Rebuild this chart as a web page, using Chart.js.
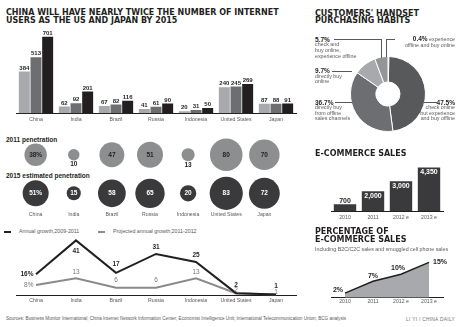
<!DOCTYPE html>
<html>
<head>
<meta charset="utf-8">
<script src="https://cdn.jsdelivr.net/npm/chart.js@4.4.0/dist/chart.umd.min.js"></script>
<style>
  body { margin: 0; background: #fff; }
  #page { position: relative; width: 460px; height: 327px; overflow: hidden; background: #fff;
          font-family: "Liberation Sans", Arial, sans-serif; color: #231f20; }
  .t { position: absolute; white-space: nowrap; }
  .head { font-family: "DejaVu Sans", sans-serif; font-weight: bold; font-size: 8px; line-height: 8.4px; color: #231f20; }
  .small { font-size: 5.3px; line-height: 5.8px; color: #58595b; }
  .pct { font-weight: bold; font-size: 6.5px; line-height: 7px; color: #231f20; }
  .rule { position: absolute; background: #58595b; }
  canvas { position: absolute; }
</style>
</head>
<body>
<div id="page">
  <div class="t head" style="left:6px; top:8.6px;">CHINA WILL HAVE NEARLY TWICE THE NUMBER OF INTERNET<br>USERS AS THE US AND JAPAN BY 2015</div>
  <canvas id="usersChart" width="300" height="110" style="left:0; top:20px;"></canvas>

  <div class="t" style="left:6px; top:135.5px; font-weight:bold; font-size:6.5px; line-height:7px;">2011 penetration</div>
  <div class="t" style="left:6px; top:171.7px; font-weight:bold; font-size:6.5px; line-height:7px;">2015 estimated penetration</div>
  <canvas id="penetrationChart" width="300" height="92" style="left:0; top:130px;"></canvas>

  <div class="rule" style="left:4px; top:230.5px; width:6.5px; height:2px; background:#231f20;"></div>
  <div class="t small" style="left:19px; top:228.6px;">Annual growth,2009-2011</div>
  <div class="rule" style="left:98px; top:230.5px; width:6.5px; height:2px; background:#8a8a8c;"></div>
  <div class="t small" style="left:113px; top:228.6px;">Projected annual growth,2011-2012</div>
  <canvas id="growthChart" width="300" height="88" style="left:0; top:225px;"></canvas>

  <div class="t" style="left:6px; top:316px; font-size:4.6px; line-height:5px; color:#58595b;">Sources: Business Monitor International; China Internet Network Information Center; Economist Intelligence Unit; International Telecommunication Union; BCG analysis</div>
  <div class="t" style="right:5px; top:316.5px; font-size:4.8px; line-height:5px; letter-spacing:0.3px; color:#6d6e71;">LI YI / CHINA DAILY</div>

  <!-- right column -->
  <div class="t head" style="left:315px; top:9.6px; line-height:7.4px;">CUSTOMERS' HANDSET<br>PURCHASING HABITS</div>
  <canvas id="habitsChart" width="76" height="76" style="left:350px; top:56px;"></canvas>

  <div class="t pct" style="left:315px; top:35.8px;">5.7%</div>
  <div class="t small" style="left:315px; top:42.1px;">check and<br>buy online,<br>experience offline</div>
  <div class="t pct" style="left:315px; top:67.2px;">9.7%</div>
  <div class="t small" style="left:315px; top:73.6px;">directly buy<br>online</div>
  <div class="t pct" style="left:315px; top:98.8px;">36.7%</div>
  <div class="t small" style="left:315px; top:105px; line-height:5.6px;">directly buy<br>from offline<br>sales channels</div>
  <div class="t pct" style="right:5px; top:98.8px;">47.5%</div>
  <div class="t small" style="right:5px; top:105px; line-height:5.6px; text-align:right;">check online<br>but experience<br>and buy offline</div>
  <div class="t small" style="right:5px; top:35.5px; text-align:right; line-height:6px;"><b style="font-size:6.5px; color:#231f20;">0.4%</b> experience<br>offline and buy online</div>

  <div class="rule" style="left:334px; top:39px; width:47.5px; height:1px;"></div>
  <div class="rule" style="left:381px; top:39px; width:1px; height:19px;"></div>
  <div class="rule" style="left:386px; top:39px; width:1px; height:18px;"></div>
  <div class="rule" style="left:386px; top:39px; width:9px; height:1px;"></div>
  <div class="rule" style="left:332px; top:70.5px; width:20px; height:1px;"></div>
  <div class="rule" style="left:335px; top:102px; width:17px; height:1px;"></div>
  <div class="rule" style="left:424px; top:102px; width:12.5px; height:1px;"></div>

  <div class="t head" style="left:315px; top:150px;">E-COMMERCE SALES</div>
  <canvas id="salesChart" width="150" height="68" style="left:310px; top:158px;"></canvas>

  <div class="t head" style="left:315px; top:227.8px; line-height:8px;">PERCENTAGE OF<br>E-COMMERCE SALES</div>
  <div class="t small" style="left:315px; top:247.4px;">Including B2C/C2C sales and smuggled cell phone sales</div>
  <canvas id="shareChart" width="150" height="62" style="left:310px; top:250px;"></canvas>
</div>

<script>
// --- DATA ---
const countries = ['China', 'India', 'Brazil', 'Russia', 'Indonesia', 'United States', 'Japan'];
// internet users (million), three bars per country: light, mid, dark
const usersLight = [384, 62, 67, 41, 20, 240, 87];
const usersMid = [513, 92, 82, 61, 31, 245, 88];
const usersDark = [701, 201, 116, 90, 50, 269, 91];
// penetration (%)
const penetration2011 = [38, 10, 47, 51, 13, 80, 70];
const penetration2015 = [51, 15, 58, 65, 20, 83, 72];
// growth (%)
const growth0911 = [16, 41, 17, 31, 25, 2, 1];
const growth1112 = [8, 13, 6, 6, 13, 2, 1];
// handset habits (%)
const habitLabels = ['experience offline and buy online', 'check online but experience and buy offline',
  'directly buy from offline sales channels', 'directly buy online', 'check and buy online, experience offline'];
const habitShares = [0.4, 47.5, 36.7, 9.7, 5.7];
// e-commerce
const salesYears = ['2010', '2011', '2012 e', '2013 e'];
const salesValues = [700, 2000, 3000, 4350];
const shareValues = [2, 7, 10, 15];

const DARK = '#231f20';
Chart.defaults.font.family = '"Liberation Sans", Arial, sans-serif';
Chart.defaults.color = '#58595b';
Chart.defaults.animation = false;
Chart.defaults.plugins.legend.display = false;
Chart.defaults.plugins.tooltip.enabled = false;

function catAxis(size, pad) {
    return {
        grid: { display: false, drawTicks: false },
        border: { color: DARK, width: 1 },
        ticks: { font: { size: size }, color: '#58595b', padding: pad, autoSkip: false, maxRotation: 0 }
    };
}

// Grafik 1: pengguna internet
new Chart(document.getElementById('usersChart'), {
    type: 'bar',
    data: {
        labels: countries,
        datasets: [
            { data: usersLight, backgroundColor: '#a7a9ac' },
            { data: usersMid, backgroundColor: '#6d6e71' },
            { data: usersDark, backgroundColor: DARK }
        ]
    },
    options: {
        responsive: false,
        layout: { padding: { left: 16, right: 4, top: 6, bottom: 4.4 } },
        datasets: { bar: { categoryPercentage: 0.875, barPercentage: 0.94 } },
        scales: { x: catAxis(5.2, 3), y: { display: false, min: 0, max: 800 } }
    },
    plugins: [{
        id: 'usersLabels',
        afterDatasetsDraw(chart) {
            const ctx = chart.ctx;
            ctx.save();
            ctx.font = 'bold 6px "Liberation Sans"';
            ctx.fillStyle = DARK;
            ctx.textAlign = 'center';
            ctx.textBaseline = 'bottom';
            chart.data.datasets.forEach((ds, i) => {
                chart.getDatasetMeta(i).data.forEach((bar, j) => {
                    ctx.fillText(ds.data[j], bar.x, bar.y - 0.5);
                });
            });
            ctx.restore();
        }
    }]
});

// Grafik 2: penetrasi (lingkaran, luas ~ nilai)
const BUBBLE_K = 1.82;
function bubbleSet(values, row, color) {
    return {
        values: values,
        data: values.map((v, i) => ({ x: i, y: row })),
        backgroundColor: color,
        pointRadius: c => BUBBLE_K * Math.sqrt(c.dataset.values[c.dataIndex]),
        pointHoverRadius: c => BUBBLE_K * Math.sqrt(c.dataset.values[c.dataIndex]),
        pointBorderWidth: 0,
        clip: false
    };
}
new Chart(document.getElementById('penetrationChart'), {
    type: 'scatter',
    data: { datasets: [bubbleSet(penetration2011, 1, '#8d8e90'), bubbleSet(penetration2015, 0, '#3a3a3c')] },
    options: {
        responsive: false,
        layout: { padding: { left: 16, right: 4, top: 24.7, bottom: 28.7 } },
        scales: {
            x: { display: false, type: 'linear', min: -0.5, max: 6.5 },
            y: { display: false, min: 0, max: 1 }
        }
    },
    plugins: [{
        id: 'bubbleLabels',
        afterDatasetsDraw(chart) {
            const ctx = chart.ctx;
            ctx.save();
            ctx.textAlign = 'center';
            ctx.textBaseline = 'middle';
            chart.data.datasets.forEach((ds, i) => {
                chart.getDatasetMeta(i).data.forEach((pt, j) => {
                    const v = ds.values[j];
                    const r = BUBBLE_K * Math.sqrt(v);
                    const txt = j === 0 ? v + '%' : String(v);
                    ctx.font = 'bold 6.5px "Liberation Sans"';
                    if (i === 0 && r < 7) {
                        ctx.fillStyle = DARK;
                        ctx.fillText(txt, pt.x, pt.y + r + 4);
                    } else {
                        ctx.fillStyle = i === 0 ? DARK : '#ffffff';
                        ctx.fillText(txt, pt.x, pt.y + 0.3);
                    }
                });
            });
            // nama negara di bawah baris kedua
            const xs = chart.scales.x;
            ctx.font = '5.2px "Liberation Sans"';
            ctx.fillStyle = '#58595b';
            countries.forEach((c, i) => ctx.fillText(c, xs.getPixelForValue(i), 84.3));
            ctx.restore();
        }
    }]
});

// Grafik 3: pertumbuhan tahunan
const blackPlace = [[-2.5, 0, 'right'], [0, 11, 'center'], [0, -9, 'center'], [0, -7, 'center'], [0, -7, 'center'], [0, -7.5, 'center'], [0, -8.5, 'center']];
const grayPlace = [[-2.5, 0, 'right'], [0, -6.5, 'center'], [0, -8, 'center'], [0, -8, 'center'], [0, -6.5, 'center'], [0, -3, 'center'], [0, -2, 'center']];
new Chart(document.getElementById('growthChart'), {
    type: 'line',
    data: {
        labels: countries,
        datasets: [
            { data: growth0911, borderColor: DARK, borderWidth: 2, pointRadius: 0, tension: 0, place: blackPlace, bold: true },
            { data: growth1112, borderColor: '#8a8a8c', borderWidth: 2, pointRadius: 0, tension: 0, place: grayPlace, bold: false }
        ]
    },
    options: {
        responsive: false,
        layout: { padding: { left: 16, right: 4, top: 10, bottom: 6.9 } },
        scales: { x: Object.assign(catAxis(5.2, 2), { offset: true }), y: { display: false, min: 0, max: 45 } }
    },
    plugins: [{
        id: 'growthLabels',
        afterDatasetsDraw(chart) {
            const ctx = chart.ctx;
            ctx.save();
            ctx.textBaseline = 'middle';
            chart.data.datasets.forEach((ds, i) => {
                ctx.font = (ds.bold ? 'bold ' : '') + '6.5px "Liberation Sans"';
                ctx.fillStyle = ds.bold ? DARK : '#77787b';
                chart.getDatasetMeta(i).data.forEach((pt, j) => {
                    const p = ds.place[j];
                    ctx.textAlign = p[2];
                    ctx.fillText(ds.data[j] + (j === 0 ? '%' : ''), pt.x + p[0], pt.y + p[1]);
                });
            });
            ctx.restore();
        }
    }]
});

// Grafik 4: kebiasaan membeli (donat)
new Chart(document.getElementById('habitsChart'), {
    type: 'doughnut',
    data: {
        labels: habitLabels,
        datasets: [{
            data: habitShares,
            backgroundColor: ['#c7c8ca', '#58595b', '#6d6e71', '#a7a9ac', '#939598'],
            borderColor: '#ffffff',
            borderWidth: 1
        }]
    },
    options: { responsive: false, cutout: 12 }
});

// Grafik 5: penjualan e-commerce
new Chart(document.getElementById('salesChart'), {
    type: 'bar',
    data: { labels: salesYears, datasets: [{ data: salesValues, backgroundColor: '#3a3a3c' }] },
    options: {
        responsive: false,
        layout: { padding: { left: 21, right: 17, top: 3, bottom: 2.4 } },
        datasets: { bar: { categoryPercentage: 0.8, barPercentage: 1 } },
        scales: { x: catAxis(5.2, 3), y: { display: false, min: 0, max: 5000 } }
    },
    plugins: [{
        id: 'salesLabels',
        afterDatasetsDraw(chart) {
            const ctx = chart.ctx;
            ctx.save();
            ctx.font = 'bold 7px "Liberation Sans"';
            ctx.textAlign = 'center';
            ctx.textBaseline = 'middle';
            chart.getDatasetMeta(0).data.forEach((bar, j) => {
                const txt = salesValues[j].toLocaleString('en-US');
                if (bar.base - bar.y > 15) {
                    ctx.fillStyle = '#ffffff';
                    ctx.fillText(txt, bar.x, bar.y + 4.5);
                } else {
                    ctx.fillStyle = DARK;
                    ctx.fillText(txt, bar.x, bar.y - 3.5);
                }
            });
            ctx.restore();
        }
    }]
});

// Grafik 6: persentase penjualan e-commerce
const sharePlace = [[-2, -3.5, 'right'], [0, -5, 'center'], [-3, -6.5, 'center'], [4, 0, 'left']];
new Chart(document.getElementById('shareChart'), {
    type: 'line',
    data: {
        labels: salesYears,
        datasets: [{
            data: shareValues, fill: 'origin', backgroundColor: '#a7a9ac',
            borderColor: DARK, borderWidth: 1.5, pointRadius: 0, tension: 0
        }]
    },
    options: {
        responsive: false,
        layout: { padding: { left: 21, right: 17, top: 0.5, bottom: 5.9 } },
        scales: { x: Object.assign(catAxis(5.2, 1), { offset: true }), y: { display: false, min: 0, max: 20 } }
    },
    plugins: [{
        id: 'shareLabels',
        afterDatasetsDraw(chart) {
            const ctx = chart.ctx;
            ctx.save();
            ctx.font = 'bold 7px "Liberation Sans"';
            ctx.fillStyle = DARK;
            ctx.textBaseline = 'middle';
            chart.getDatasetMeta(0).data.forEach((pt, j) => {
                const p = sharePlace[j];
                ctx.textAlign = p[2];
                ctx.fillText(shareValues[j] + '%', pt.x + p[0], pt.y + p[1]);
            });
            ctx.restore();
        }
    }]
});
</script>
</body>
</html>
